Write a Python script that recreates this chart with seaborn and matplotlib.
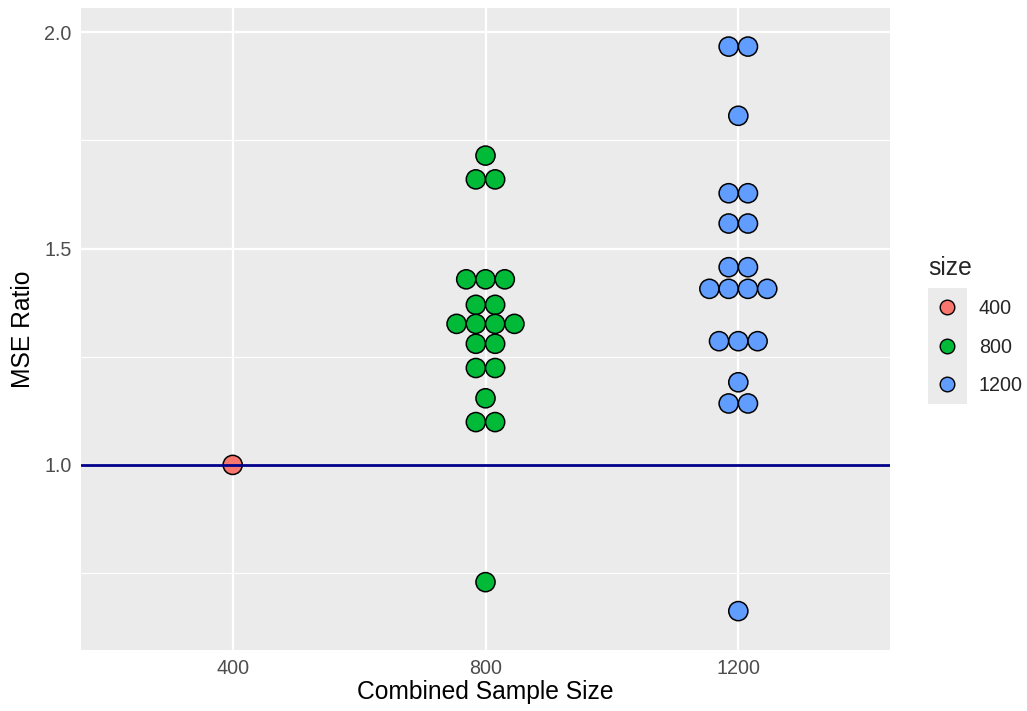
import numpy as np
import pandas as pd
import matplotlib
matplotlib.use("Agg")
import matplotlib.pyplot as plt
import seaborn as sns
from matplotlib.patches import Rectangle

# ---------------- data ----------------
sizes = [400, 800, 1200]
size_labels = ["400", "800", "1200"]
ratio_400 = [1.000]
ratio_800 = [1.715,
             1.660, 1.660,
             1.429, 1.429, 1.429,
             1.370, 1.370,
             1.326, 1.326, 1.326, 1.326,
             1.280, 1.280,
             1.224, 1.224,
             1.154,
             1.099, 1.099,
             0.729]
ratio_1200 = [1.967, 1.967,
              1.807,
              1.628, 1.628,
              1.558, 1.558,
              1.457, 1.457,
              1.407, 1.407, 1.407, 1.407,
              1.286, 1.286, 1.286,
              1.191,
              1.142, 1.142,
              0.662]
colors = ["#F8766D", "#00BA38", "#619CFF"]
y_major = [1.0, 1.5, 2.0]
y_minor = [0.75, 1.25, 1.75]
reference_value = 1.0
x_title = "Combined Sample Size"
y_title = "MSE Ratio"
legend_title = "size"

# ---------------- dataframe + dotplot stacking ----------------
df = pd.DataFrame({
    "size": [size_labels[0]] * len(ratio_400) + [size_labels[1]] * len(ratio_800)
            + [size_labels[2]] * len(ratio_1200),
    "ratio": ratio_400 + ratio_800 + ratio_1200,
})
df["size"] = pd.Categorical(df["size"], categories=size_labels, ordered=True)
spacing = 0.0763  # horizontal distance between stacked dots (category units)
df["slot"] = df.groupby(["size", "ratio"], observed=True).cumcount()
df["n"] = df.groupby(["size", "ratio"], observed=True)["ratio"].transform("size")
df["xpos"] = df["size"].cat.codes + (df["slot"] - (df["n"] - 1) / 2) * spacing

# ---------------- style ----------------
sns.set_style("white")
plt.rcParams["font.family"] = ["Liberation Sans", "DejaVu Sans"]

W, H = 1027, 711
fig = plt.figure(figsize=(W / 100, H / 100), dpi=100)
left, right, top, bottom = 81, 890, 8, 649.7
ax = fig.add_axes([left / W, 1 - bottom / H, (right - left) / W, (bottom - top) / H])
ax.set_facecolor("#EBEBEB")
for s in ax.spines.values():
    s.set_visible(False)

# y limits like ggplot dotplot: range +/- binwidth/2, then 5% expansion
allv = np.array(df["ratio"])
bw = (allv.max() - allv.min()) / 30
lo, hi = allv.min() - bw / 2, allv.max() + bw / 2
pad = (hi - lo) * 0.05
ax.set_ylim(lo - pad, hi + pad)
ax.set_xlim(-0.6, len(sizes) - 1 + 0.6)

# grid
for v in y_minor:
    ax.axhline(v, color="white", lw=0.8, zorder=0.5)
for v in y_major:
    ax.axhline(v, color="white", lw=1.6, zorder=0.6)
for i in range(len(sizes)):
    ax.axvline(i, color="white", lw=1.6, zorder=0.6)

sns.scatterplot(data=df, x="xpos", y="ratio", hue="size", hue_order=size_labels,
                palette=dict(zip(size_labels, colors)), s=190, edgecolor="black",
                linewidth=1.1, legend=False, ax=ax, zorder=3)

ax.axhline(reference_value, color="#00008B", lw=2.0, zorder=4)

ax.set_xticks(range(len(sizes)))
ax.set_xticklabels(size_labels)
ax.set_yticks(y_major)
ax.set_yticklabels([f"{v:.1f}" for v in y_major])
ax.tick_params(axis="both", colors="#333333", length=4.3, width=1.0,
               labelsize=14.2, labelcolor="#4D4D4D", pad=2.5)

ax.set_xlabel(x_title, fontsize=17.7, color="black")
ax.set_ylabel(y_title, fontsize=17.7, color="black")
ax.xaxis.label.set_va("center")
ax.yaxis.label.set_va("center")
ax.xaxis.set_label_coords(0.5, (bottom - 692) / (bottom - top))
ax.yaxis.set_label_coords((23 - left) / (right - left), 0.5)

# legend
handles = [plt.Line2D([], [], marker="o", linestyle="", markersize=10.5,
                      markerfacecolor=c, markeredgecolor="black", markeredgewidth=1.0)
           for c in colors]
leg = fig.legend(handles, size_labels, title=legend_title, frameon=False,
                 loc="upper left", bbox_to_anchor=(912 / W, 1 - 240 / H),
                 fontsize=14.2, title_fontsize=17.7, labelspacing=0.99,
                 handlelength=1.98, handletextpad=0.61, borderpad=0.3)
leg._legend_box.align = "left"

fig.canvas.draw()
# gray key background behind the legend keys
renderer = fig.canvas.get_renderer()
ext = [h.get_window_extent(renderer) for h in leg.legend_handles]
cx = np.mean([(e.x0 + e.x1) / 2 for e in ext])
ys = [(e.y0 + e.y1) / 2 for e in ext]
step = abs(ys[0] - ys[1])
rect = Rectangle((cx - 19.5, min(ys) - step / 2), 39, step * len(ys),
                 transform=None, facecolor="#EBEBEB", edgecolor="none", zorder=-1)
fig.patches.append(rect)

fig.savefig("out.png", dpi=100)
